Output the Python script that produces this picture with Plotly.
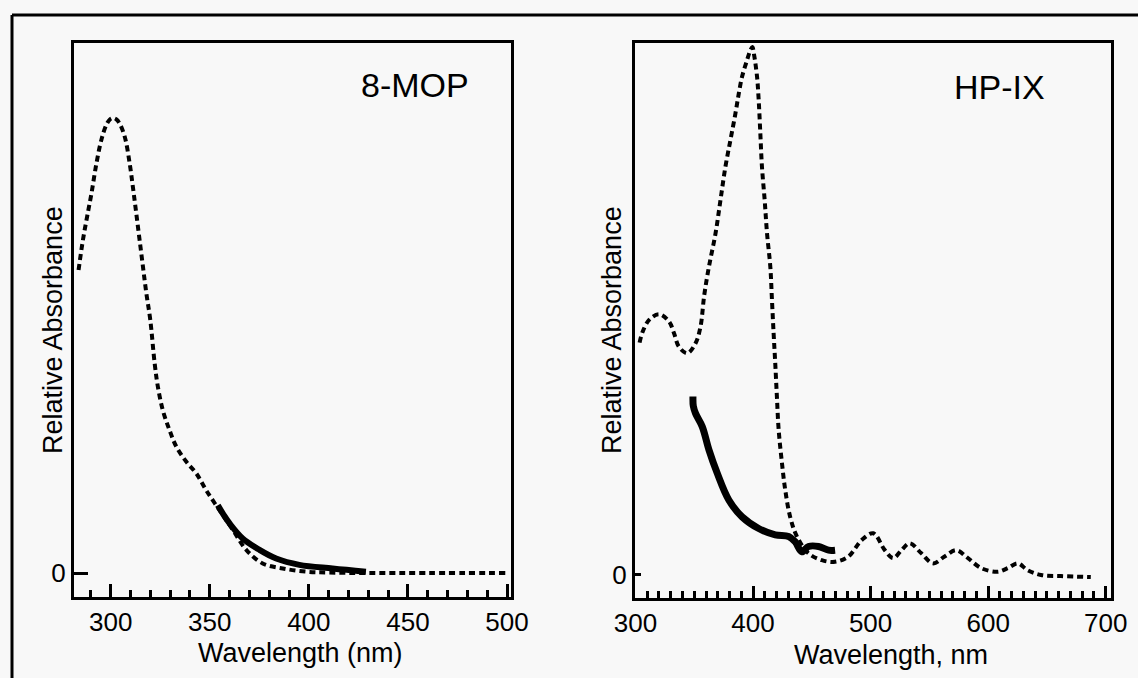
import plotly.graph_objects as go

# ---------------- data ----------------
# Left panel: 8-MOP
mop_abs_nm = [283.8, 286.0, 288.1, 290.3, 292.8, 295.3, 297.8, 299.6, 301.2, 302.9, 304.5, 307.1,
              309.6, 311.2, 312.9, 314.6, 316.3, 318.0, 320.0, 322.2, 323.8, 326.3, 329.7,
              333.1, 338.1, 343.2, 348.2, 354.9, 361.6, 368.4, 376.7, 386.8, 398.6, 410.0,
              430.0, 460.0, 500.0]
mop_abs_val = [0.666, 0.732, 0.783, 0.834, 0.900, 0.952, 0.985, 0.997, 1.000, 0.997, 0.988, 0.959,
               0.900, 0.849, 0.791, 0.732, 0.673, 0.615, 0.556, 0.461, 0.410, 0.358, 0.314,
               0.278, 0.245, 0.219, 0.182, 0.138, 0.095, 0.051, 0.021, 0.010, 0.003, 0.001,
               0.0, 0.0, 0.0]
mop_act_nm = [354.1, 357.0, 360.0, 366.6, 375.1, 383.5, 395.2, 412.0, 428.8]
mop_act_val = [0.149, 0.128, 0.109, 0.076, 0.051, 0.032, 0.018, 0.010, 0.003]

# Right panel: HP-IX
hp_abs_nm = [303.5, 306.0, 311.6, 320.1, 328.6, 332.8, 337.0, 344.1, 351.1, 355.3, 358.5,
             362.5, 368.1, 372.3, 376.5, 380.8, 385.0, 387.9, 390.7, 394.9, 397.7, 399.4,
             400.9, 403.4, 404.8, 406.2, 407.6, 409.9, 411.9, 414.7, 416.1, 417.5, 418.9,
             420.3, 421.8, 424.6, 427.4, 431.6, 437.3, 447.2, 458.5, 469.7, 481.1, 492.4,
             502.3, 512.1, 519.2, 526.3, 533.3, 543.2, 553.1, 563.0, 572.9, 582.8, 594.1,
             608.2, 616.7, 625.2, 633.6, 644.9, 661.9, 687.3]
hp_abs_val = [0.440, 0.460, 0.483, 0.494, 0.480, 0.458, 0.432, 0.420, 0.439, 0.470, 0.530,
              0.584, 0.647, 0.710, 0.773, 0.824, 0.874, 0.912, 0.944, 0.975, 0.994, 1.000,
              0.985, 0.944, 0.900, 0.837, 0.773, 0.710, 0.647, 0.584, 0.521, 0.458, 0.401,
              0.338, 0.275, 0.212, 0.161, 0.110, 0.073, 0.041, 0.028, 0.025, 0.035, 0.066,
              0.079, 0.047, 0.032, 0.047, 0.060, 0.041, 0.022, 0.035, 0.047, 0.032, 0.013,
              0.006, 0.013, 0.022, 0.009, 0.000, -0.002, -0.004]
hp_act_nm = [348.9, 349.2, 351.1, 356.8, 362.5, 369.5, 379.4, 390.7, 404.8, 418.9, 430.3,
             435.8, 441.5, 447.2, 455.7, 464.2, 469.8]
hp_act_val = [0.338, 0.320, 0.306, 0.281, 0.237, 0.193, 0.142, 0.110, 0.088, 0.076, 0.073,
              0.063, 0.044, 0.054, 0.054, 0.047, 0.047]

left_xticks = [300, 350, 400, 450, 500]
right_xticks = [300, 400, 500, 600, 700]
y_ticks = [0]
y_ticktext = ["0"]

# ---------------- figure ----------------
W, H = 1138, 678
FONT = "Liberation Sans, Arial, Helvetica, sans-serif"
BG = "#f8f8f8"


def px(x):
    return x / W


def py(y):
    return 1 - y / H


fig = go.Figure()

dash_style = dict(color="black", width=4, dash="6px,4px")

fig.add_trace(go.Scatter(x=mop_abs_nm, y=mop_abs_val, mode="lines", line=dash_style,
                         line_shape="spline", xaxis="x", yaxis="y", showlegend=False))
fig.add_trace(go.Scatter(x=mop_act_nm, y=mop_act_val, mode="lines",
                         line=dict(color="black", width=6), line_shape="spline",
                         xaxis="x", yaxis="y", showlegend=False))
fig.add_trace(go.Scatter(x=hp_abs_nm, y=hp_abs_val, mode="lines", line=dash_style,
                         line_shape="spline", xaxis="x2", yaxis="y2", showlegend=False))
fig.add_trace(go.Scatter(x=hp_act_nm, y=hp_act_val, mode="lines",
                         line=dict(color="black", width=7), line_shape="spline",
                         xaxis="x2", yaxis="y2", showlegend=False))

tickfont = dict(family=FONT, size=26, color="black")
common_x = dict(showline=True, linecolor="black", linewidth=3, mirror=True, showgrid=False,
                zeroline=False, ticks="inside", tickwidth=3, tickcolor="black",
                tickfont=tickfont, fixedrange=True, automargin=False)
common_y = dict(showline=True, linecolor="black", linewidth=3, mirror=True, showgrid=False,
                zeroline=False, ticks="inside", tickwidth=3, tickcolor="black",
                tickfont=tickfont, tickvals=y_ticks, ticktext=y_ticktext, fixedrange=True,
                automargin=False)

fig.update_layout(
    template="none",
    width=W, height=H,
    margin=dict(l=0, r=0, t=0, b=0, pad=0, autoexpand=False),
    paper_bgcolor=BG, plot_bgcolor=BG,
    xaxis=dict(common_x, domain=[px(74), px(511)], range=[281.5, 502], anchor="y",
               tickvals=left_xticks, ticklen=13,
               minor=dict(ticks="inside", dtick=10, tick0=0, ticklen=7, tickwidth=3,
                          tickcolor="black", showgrid=False)),
    yaxis=dict(common_y, domain=[py(597), py(43)], range=[-0.0527, 1.165], anchor="x",
               ticklen=14),
    xaxis2=dict(common_x, domain=[px(635), px(1111)], range=[299.6, 704.5], anchor="y2",
                tickvals=right_xticks, ticklen=12,
                minor=dict(ticks="inside", dtick=10, tick0=0, ticklen=7, tickwidth=3,
                           tickcolor="black", showgrid=False)),
    yaxis2=dict(common_y, domain=[py(598), py(43)], range=[-0.0436, 1.0076], anchor="x2",
                ticklen=6),
)

annots = [
    ("8-MOP", 415, 85, 34, 0),
    ("HP-IX", 999, 87, 34, 0),
    ("Wavelength (nm)", 300, 653, 27, 0),
    ("Wavelength, nm", 891, 655, 27, 0),
    ("Relative Absorbance", 53, 330, 27, -90),
    ("Relative Absorbance", 612, 330, 27, -90),
]
for text, x, y, size, rot in annots:
    fig.add_annotation(text=text, x=px(x), y=py(y), xref="paper", yref="paper",
                       xanchor="center", yanchor="middle", showarrow=False, textangle=rot,
                       font=dict(family=FONT, size=size, color="black"))

# outer figure frame (left and top edges visible)
fig.add_shape(type="line", xref="paper", yref="paper", x0=px(12), y0=py(720), x1=px(12),
              y1=py(15), line=dict(color="black", width=3))
fig.add_shape(type="line", xref="paper", yref="paper", x0=px(12), y0=py(15), x1=px(1200),
              y1=py(15), line=dict(color="black", width=3))

fig.write_html("out.html", config={"displayModeBar": False},
               post_script="document.body.style.margin='0';document.body.style.overflow='hidden';")
